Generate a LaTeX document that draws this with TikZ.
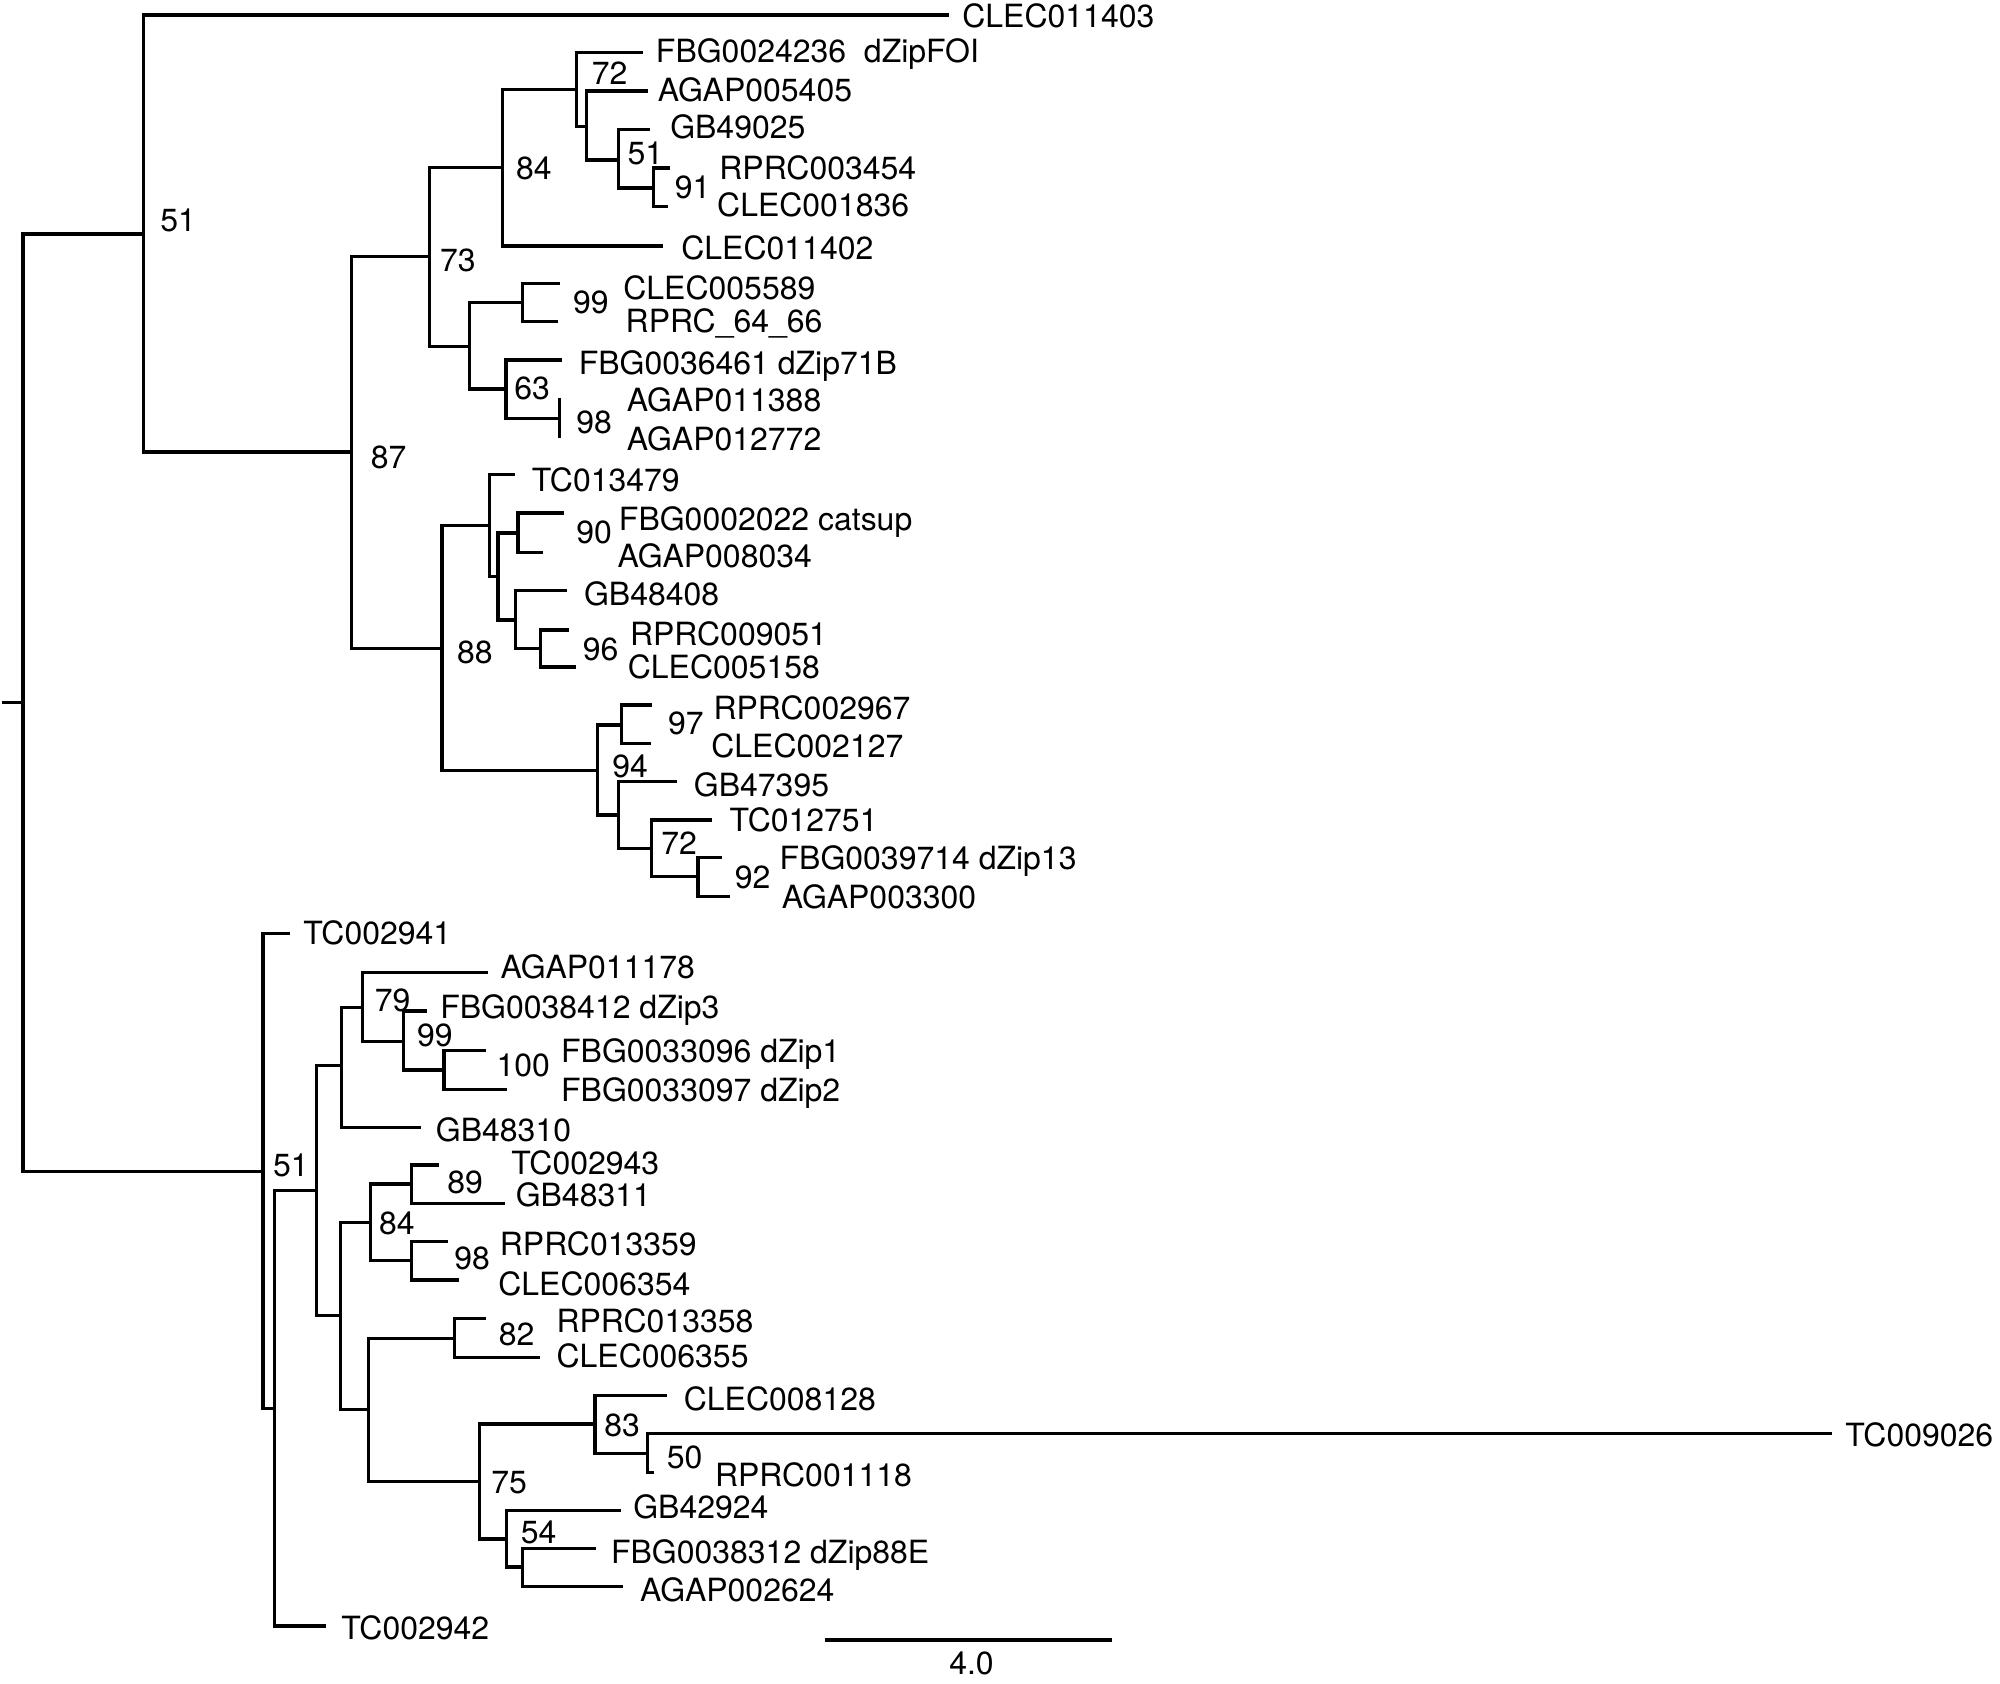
\documentclass[tikz,border=0pt]{standalone}
\usepackage{fontspec}
\setmainfont{TeX Gyre Heros}
\begin{document}
\begin{tikzpicture}[x=0.2mm,y=-0.2mm,
  br/.style={draw=black, line width=1.8pt},
  leaf/.style={anchor=base west, inner sep=0pt, font=\fontsize{18.2}{20}\selectfont},
  bsv/.style={anchor=base west, inner sep=0pt, font=\fontsize{18.2}{20}\selectfont},
  scl/.style={anchor=base, inner sep=0pt, font=\fontsize{18.2}{20}\selectfont}]
\useasboundingbox (0,0) rectangle (2000,1683);
\newcommand\tl[4]{\node[leaf] (#1) at (#2,#3+11.5) {#4};}
\newcommand\bv[4]{\node[bsv] (#1) at (#2,#3+11.5) {#4};}
% ---------- tree nodes ----------
\coordinate (R0) at (2,702.3);
\coordinate (R) at (23,702.3);
\coordinate (A) at (143.1,234);
\coordinate (tCLEC011403) at (948.9,15);
\coordinate (B) at (351.5,452);
\coordinate (C) at (429.3,256.7);
\coordinate (D) at (502.5,167.5);
\coordinate (X1) at (576.4,89.3);
\coordinate (X2) at (586.8,126.3);
\coordinate (X3) at (618.3,160);
\coordinate (X4) at (653.3,188);
\coordinate (tFBG0024236) at (643.1,52.3);
\coordinate (tAGAP005405) at (647.6,91);
\coordinate (tGB49025) at (649.8,129.2);
\coordinate (tRPRC003454) at (669.9,168);
\coordinate (tCLEC001836) at (667.7,206.7);
\coordinate (tCLEC011402) at (663.2,246);
\coordinate (Y1) at (469.3,346.7);
\coordinate (Y2) at (522.9,302.5);
\coordinate (tCLEC005589) at (559.7,283.3);
\coordinate (tRPRC6466) at (558.4,321.7);
\coordinate (Y3) at (506,389);
\coordinate (tFBG0036461) at (561.6,360);
\coordinate (Y4) at (559.7,418.3);
\coordinate (tAGAP011388) at (559.7,398);
\coordinate (tAGAP012772) at (559.7,438);
\coordinate (E) at (442,648.3);
\coordinate (Z1) at (489.5,525.5);
\coordinate (tTC013479) at (514.6,474.3);
\coordinate (Z2) at (498,576.5);
\coordinate (Z3) at (518,533);
\coordinate (tFBG0002022) at (563.5,513);
\coordinate (tAGAP008034) at (542.5,552.3);
\coordinate (Z4) at (515.8,620);
\coordinate (tGB48408) at (566.6,590.7);
\coordinate (Z5) at (540.9,648.5);
\coordinate (tRPRC009051) at (569,630);
\coordinate (tCLEC005158) at (576,667);
\coordinate (W1) at (597.7,770.5);
\coordinate (W2) at (621.5,725);
\coordinate (tRPRC002967) at (652,705);
\coordinate (tCLEC002127) at (650.7,743.3);
\coordinate (W3) at (618.6,815);
\coordinate (tGB47395) at (676.6,781.7);
\coordinate (W4) at (651.5,848.3);
\coordinate (tTC012751) at (712.3,820);
\coordinate (W5) at (698,876.7);
\coordinate (tFBG0039714) at (722.1,857.3);
\coordinate (tAGAP003300) at (730.2,896.7);
\coordinate (V1) at (263,1171.7);
\coordinate (tTC002941) at (290.4,933.3);
\coordinate (V2) at (274.4,1408.3);
\coordinate (tTC002942) at (326.2,1626);
\coordinate (V3) at (316.5,1190.7);
\coordinate (V4) at (341.8,1065.7);
\coordinate (tGB48310) at (420.9,1127.7);
\coordinate (V5) at (362.8,1007.3);
\coordinate (tAGAP011178) at (488.3,972.3);
\coordinate (V6) at (403.2,1041.7);
\coordinate (tFBG0038412) at (427.2,1011);
\coordinate (V7) at (444,1070);
\coordinate (tFBG0033096) at (486.1,1050.7);
\coordinate (tFBG0033097) at (507.2,1089.3);
\coordinate (V8) at (340.1,1315.8);
\coordinate (V9) at (370.4,1222.3);
\coordinate (V10) at (411.2,1184);
\coordinate (tTC002943) at (439,1165);
\coordinate (tGB48311) at (505,1203.3);
\coordinate (V11) at (411.2,1260.7);
\coordinate (tRPRC013359) at (448.3,1241.7);
\coordinate (tCLEC006354) at (458.8,1280);
\coordinate (V13) at (368.3,1409.3);
\coordinate (V12) at (454.6,1338.3);
\coordinate (tRPRC013358) at (486,1318.3);
\coordinate (tCLEC006355) at (539.5,1357.3);
\coordinate (V14) at (479.8,1481.7);
\coordinate (V15) at (595,1424);
\coordinate (tCLEC008128) at (667,1395.7);
\coordinate (V18) at (647.8,1453.3);
\coordinate (tTC009026) at (1831.8,1433.3);
\coordinate (tRPRC001118) at (653.6,1472.7);
\coordinate (V16) at (506.5,1539);
\coordinate (tGB42924) at (621,1510.3);
\coordinate (V17) at (522.7,1567);
\coordinate (tFBG0038312) at (595.5,1548.3);
\coordinate (tAGAP002624) at (623,1586.7);
% ---------- branches ----------
\draw[br] (R0) -- (R);
\foreach \p/\c in {R/A, R/V1, A/tCLEC011403, A/B, B/C, B/E, C/D, C/Y1,
  D/X1, D/tCLEC011402, X1/tFBG0024236, X1/X2, X2/tAGAP005405, X2/X3,
  X3/tGB49025, X3/X4, X4/tRPRC003454, X4/tCLEC001836, Y1/Y2, Y1/Y3,
  Y2/tCLEC005589, Y2/tRPRC6466, Y3/tFBG0036461, Y3/Y4, Y4/tAGAP011388,
  Y4/tAGAP012772, E/Z1, E/W1, Z1/tTC013479, Z1/Z2, Z2/Z3, Z2/Z4,
  Z3/tFBG0002022, Z3/tAGAP008034, Z4/tGB48408, Z4/Z5, Z5/tRPRC009051,
  Z5/tCLEC005158, W1/W2, W1/W3, W2/tRPRC002967, W2/tCLEC002127,
  W3/tGB47395, W3/W4, W4/tTC012751, W4/W5, W5/tFBG0039714, W5/tAGAP003300,
  V1/tTC002941, V1/V2, V2/V3, V2/tTC002942, V3/V4, V3/V8, V4/V5,
  V4/tGB48310, V5/tAGAP011178, V5/V6, V6/tFBG0038412, V6/V7,
  V7/tFBG0033096, V7/tFBG0033097, V8/V9, V8/V13, V9/V10, V9/V11,
  V10/tTC002943, V10/tGB48311, V11/tRPRC013359, V11/tCLEC006354,
  V13/V12, V13/V14, V12/tRPRC013358, V12/tCLEC006355, V14/V15, V14/V16,
  V15/tCLEC008128, V15/V18, V18/tTC009026, V18/tRPRC001118,
  V16/tGB42924, V16/V17, V17/tFBG0038312, V17/tAGAP002624}
  {\draw[br] (\p) |- (\c);}
% ---------- leaf labels ----------
\tl{lCLEC011403}{962}{16}{CLEC011403}
\tl{lFBG0024236}{655.6}{51}{FBG0024236\ \ dZipFOI}
\tl{lAGAP005405}{657.4}{90}{AGAP005405}
\tl{lGB49025}{669.9}{127}{GB49025}
\tl{lRPRC003454}{719}{168}{RPRC003454}
\tl{lCLEC001836}{716.8}{205}{CLEC001836}
\tl{lCLEC011402}{681}{248}{CLEC011402}
\tl{lCLEC005589}{623}{288}{CLEC005589}
\tl{lRPRC6466}{625.3}{321}{RPRC\_64\_66}
\tl{lFBG0036461}{578.4}{363}{FBG0036461 dZip71B}
\tl{lAGAP011388}{626.6}{400}{AGAP011388}
\tl{lAGAP012772}{626.6}{439}{AGAP012772}
\tl{lTC013479}{531.5}{480}{TC013479}
\tl{lFBG0002022}{618.6}{519}{FBG0002022 catsup}
\tl{lAGAP008034}{617.2}{556}{AGAP008034}
\tl{lGB48408}{583.7}{594}{GB48408}
\tl{lRPRC009051}{629.7}{634}{RPRC009051}
\tl{lCLEC005158}{627.5}{667}{CLEC005158}
\tl{lRPRC002967}{713.2}{708}{RPRC002967}
\tl{lCLEC002127}{711}{746}{CLEC002127}
\tl{lGB47395}{693.6}{785}{GB47395}
\tl{lTC012751}{729.3}{820}{TC012751}
\tl{lFBG0039714}{779.3}{858}{FBG0039714 dZip13}
\tl{lAGAP003300}{781.5}{897}{AGAP003300}
\tl{lTC002941}{303}{933}{TC002941}
\tl{lAGAP011178}{500.2}{967}{AGAP011178}
\tl{lFBG0038412}{440}{1007}{FBG0038412 dZip3}
\tl{lFBG0033096}{560.8}{1051}{FBG0033096 dZip1}
\tl{lFBG0033097}{560.8}{1090}{FBG0033097 dZip2}
\tl{lGB48310}{435.6}{1130}{GB48310}
\tl{lTC002943}{511}{1163}{TC002943}
\tl{lGB48311}{515.4}{1195}{GB48311}
\tl{lRPRC013359}{499.5}{1244}{RPRC013359}
\tl{lCLEC006354}{498}{1284}{CLEC006354}
\tl{lRPRC013358}{556.2}{1321}{RPRC013358}
\tl{lCLEC006355}{556.2}{1356}{CLEC006355}
\tl{lCLEC008128}{683.5}{1399}{CLEC008128}
\tl{lTC009026}{1845}{1435}{TC009026}
\tl{lRPRC001118}{714.7}{1475}{RPRC001118}
\tl{lGB42924}{633}{1507}{GB42924}
\tl{lFBG0038312}{610.7}{1552}{FBG0038312 dZip88E}
\tl{lAGAP002624}{639.7}{1590}{AGAP002624}
\tl{lTC002942}{341}{1628}{TC002942}
% ---------- support values ----------
\bv{sA}{160}{220}{51}
\bv{sB}{370.4}{456.7}{87}
\bv{sC}{439.8}{260}{73}
\bv{sD}{515.8}{168.3}{84}
\bv{sX1}{591.6}{72.5}{72}
\bv{sX3}{627.3}{153.2}{51}
\bv{sX4}{674.4}{186.7}{91}
\bv{sY2}{572.7}{301.7}{99}
\bv{sY3}{514}{388.3}{63}
\bv{sY4}{576}{421.7}{98}
\bv{sZ3}{576}{531.7}{90}
\bv{sE}{456.7}{651.7}{88}
\bv{sZ5}{582.5}{649}{96}
\bv{sW2}{667.7}{723.3}{97}
\bv{sW1}{612}{766}{94}
\bv{sW4}{661}{843.3}{72}
\bv{sW5}{734.6}{876.7}{92}
\bv{sV1}{272.7}{1165}{51}
\bv{sV5}{374.6}{1000}{79}
\bv{sV6}{416.7}{1035}{99}
\bv{sV7}{496.3}{1064.5}{100}
\bv{sV9}{378.8}{1223.3}{84}
\bv{sV10}{447}{1181.5}{89}
\bv{sV11}{454}{1258.3}{98}
\bv{sV12}{498.5}{1334}{82}
\bv{sV14}{491}{1481.7}{75}
\bv{sV15}{604}{1424.5}{83}
\bv{sV18}{666.5}{1456.7}{50}
\bv{sV16}{520.6}{1531.7}{54}
% ---------- scale bar ----------
\coordinate (sb1) at (824.5,1640);
\coordinate (sb2) at (1112,1640);
\draw[br] (sb1) -- (sb2);
\node[scl] (sbl) at (971.5,1674.5) {4.0};
\end{tikzpicture}
\end{document}
